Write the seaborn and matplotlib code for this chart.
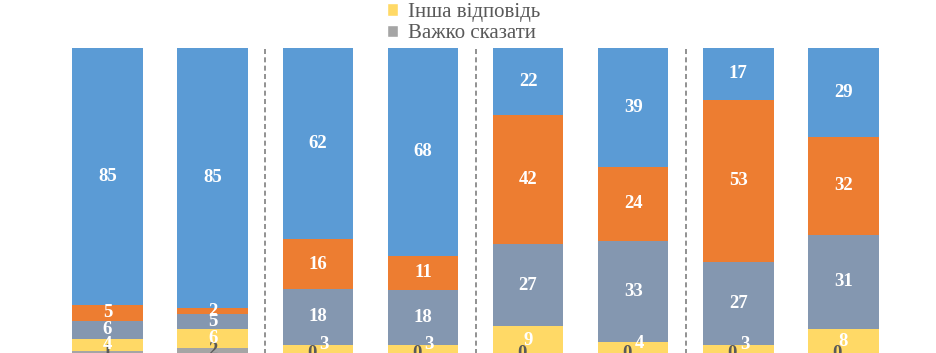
import matplotlib
matplotlib.use("Agg")
import matplotlib.pyplot as plt
import seaborn as sns
import numpy as np
import pandas as pd
from matplotlib.patches import Patch

bars = ["1", "2", "3", "4", "5", "6", "7", "8"]
# segments from bottom to top
refusal   = [1, 2, 0, 0, 0, 0, 0, 0]        # light gray
other     = [4, 6, 3, 3, 9, 4, 3, 8]        # Інша відповідь
hard      = [6, 5, 18, 18, 27, 33, 27, 31]  # blue-gray
orange    = [5, 2, 16, 11, 42, 24, 53, 32]
blue      = [85, 85, 62, 68, 22, 39, 17, 29]

legend_labels = ["Інша відповідь", "Важко сказати"]

series = [refusal, other, hard, orange, blue]
colors = ["#A5A5A5", "#FFD966", "#8497B0", "#ED7D31", "#5B9BD5"]
label_colors = ["#595959", "white", "white", "white", "white"]

sns.set_style("white")
plt.rcParams["font.family"] = ["Liberation Serif", "DejaVu Serif"]

fig = plt.figure(figsize=(9.36, 3.53), dpi=100)
ax = fig.add_axes([0, 0, 1, 1])

arr = np.array(series, dtype=float)
pct = arr / arr.sum(axis=0) * 100  # 100% stacked
cum = np.cumsum(pct, axis=0)
for i in range(len(series) - 1, -1, -1):
    df = pd.DataFrame({"bar": bars, "val": cum[i]})
    sns.barplot(data=df, x="bar", y="val", color=colors[i], width=0.67,
                saturation=1, ax=ax, errorbar=None, edgecolor="none")

for j in range(len(bars)):
    base = 0
    for i, s in enumerate(series):
        v = s[j]
        h = pct[i, j]
        y = base + h / 2
        x = j
        if i == 0 and v == 0:
            y = 0.0
            x = j - 0.06
        if i == 1 and v <= 4 and series[0][j] == 0:
            x = j + 0.06
            y = base + h / 2 + 1.5
        ax.text(x, y, str(v), ha="center", va="center", fontsize=13.5,
                fontweight="bold", color=label_colors[i])
        base += h

for xv in [1.5, 3.5, 5.5]:
    ax.vlines(xv, 0, 100, colors="#7F7F7F", linestyles=(0, (3, 2)), lw=1.2)

ax.set_xlim(-107.5 / 105.15, (936 - 107.5) / 105.15)
ax.set_ylim(0.3, 115.6)
ax.axis("off")

handles = [Patch(facecolor=colors[1]), Patch(facecolor=colors[0])]
fig.legend(handles, legend_labels, loc="upper left",
           bbox_to_anchor=(368 / 936, 1.045), frameon=False,
           handlelength=0.55, handleheight=0.55, handletextpad=0.45,
           labelspacing=0.12, prop={"size": 15}, labelcolor="#595959")

fig.savefig("out.png", dpi=100)
